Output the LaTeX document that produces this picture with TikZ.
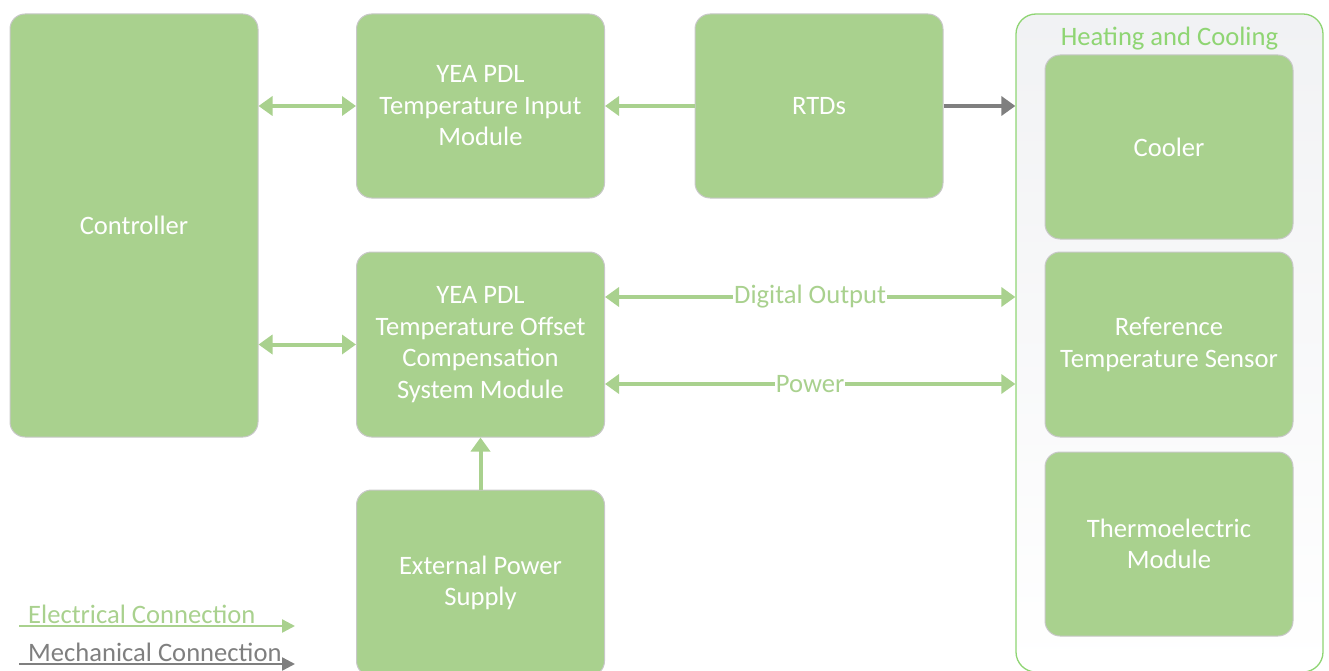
\documentclass[tikz,border=0pt]{standalone}
\usepackage{fontspec}
\setmainfont{Carlito}
\usetikzlibrary{arrows.meta,calc}
\definecolor{boxgreen}{HTML}{A9D18E}
\definecolor{boxedge}{HTML}{C8C8C8}
\definecolor{mechgray}{HTML}{7F7F7F}
\definecolor{titlegreen}{RGB}{143,213,115}
\definecolor{contfill}{HTML}{F1F2F4}
\tikzset{
  txt/.style={font=\fontsize{26.6}{31.5}\selectfont},
  blk/.style={txt, rectangle, rounded corners=15pt, fill=boxgreen, draw=boxedge, line width=1pt,
    text=white, align=center, minimum width=248, minimum height=184, inner sep=0pt},
  cont/.style={rectangle, rounded corners=20pt, draw=titlegreen, line width=1.3pt,
    top color=contfill, bottom color=white, minimum width=307, minimum height=658, inner sep=0pt},
  elec/.style={draw=boxgreen, line width=4pt, arrows={-Triangle[length=14pt,width=19pt]}},
  elecboth/.style={elec, arrows={Triangle[length=14pt,width=19pt]-Triangle[length=14pt,width=19pt]}},
  mech/.style={draw=mechgray, line width=4pt, arrows={-Triangle[length=14pt,width=19pt]}},
  lbl/.style={txt, text=boxgreen, fill=white, inner sep=1pt},
  legline/.style={line width=2.4pt, arrows={-Triangle[length=13pt,width=13pt]}},
}
\begin{document}
\begin{tikzpicture}[x=1pt,y=-1pt]
\useasboundingbox (0,0) rectangle (1329,671);
\clip (0,0) rectangle (1329,671);
% container
\node[cont] (heat) at (1169.5,343) {};
\node[txt, text=titlegreen] (heattitle) at (1169.5,39) {Heating and Cooling};
% blocks
\node[blk, minimum height=423] (ctrl) at (134,225.5) {Controller};
\node[blk] (inmod) at (480.5,106) {YEA PDL\\Temperature Input\\Module};
\node[blk] (rtd) at (819,106) {RTDs};
\node[blk, minimum height=185] (off) at (480.5,344.5) {YEA PDL\\Temperature Offset\\Compensation\\System Module};
\node[blk, minimum height=186] (ext) at (480.5,583) {External Power\\Supply};
\node[blk] (cool) at (1169,147) {Cooler};
\node[blk, minimum height=185] (ref) at (1169,344.5) {Reference\\Temperature Sensor};
\node[blk] (thermo) at (1169,544) {Thermoelectric\\Module};
% connectors
\draw[elecboth] (ctrl.east |- inmod) -- (inmod.west);
\draw[elecboth] (ctrl.east |- off) -- (off.west);
\draw[elec] (rtd.west) -- (inmod.east);
\draw[mech] (rtd.east) -- (heat.west |- rtd);
\draw[elec] (ext.north) -- (off.south);
\draw[elecboth] ($(off.east)+(0,-47.5)$) -- node[lbl] (dlbl) {Digital Output} ($(heat.west)+(0,-46)$);
\draw[elecboth] ($(off.east)+(0,39.5)$) -- node[lbl] (plbl) {Power} ($(heat.west)+(0,41)$);
% legend
\coordinate (ea) at (19,626);
\coordinate (eb) at (295,626);
\coordinate (ma) at (19,664);
\coordinate (mb) at (295,664);
\draw[legline, draw=boxgreen] (ea) -- (eb);
\draw[legline, draw=mechgray] (ma) -- (mb);
\node[txt, text=boxgreen, anchor=base west, inner sep=0pt] (elegend) at (28,623) {Electrical Connection};
\node[txt, text=mechgray, anchor=base west, inner sep=0pt] (mlegend) at (28,661) {Mechanical Connection};
\end{tikzpicture}
\end{document}
